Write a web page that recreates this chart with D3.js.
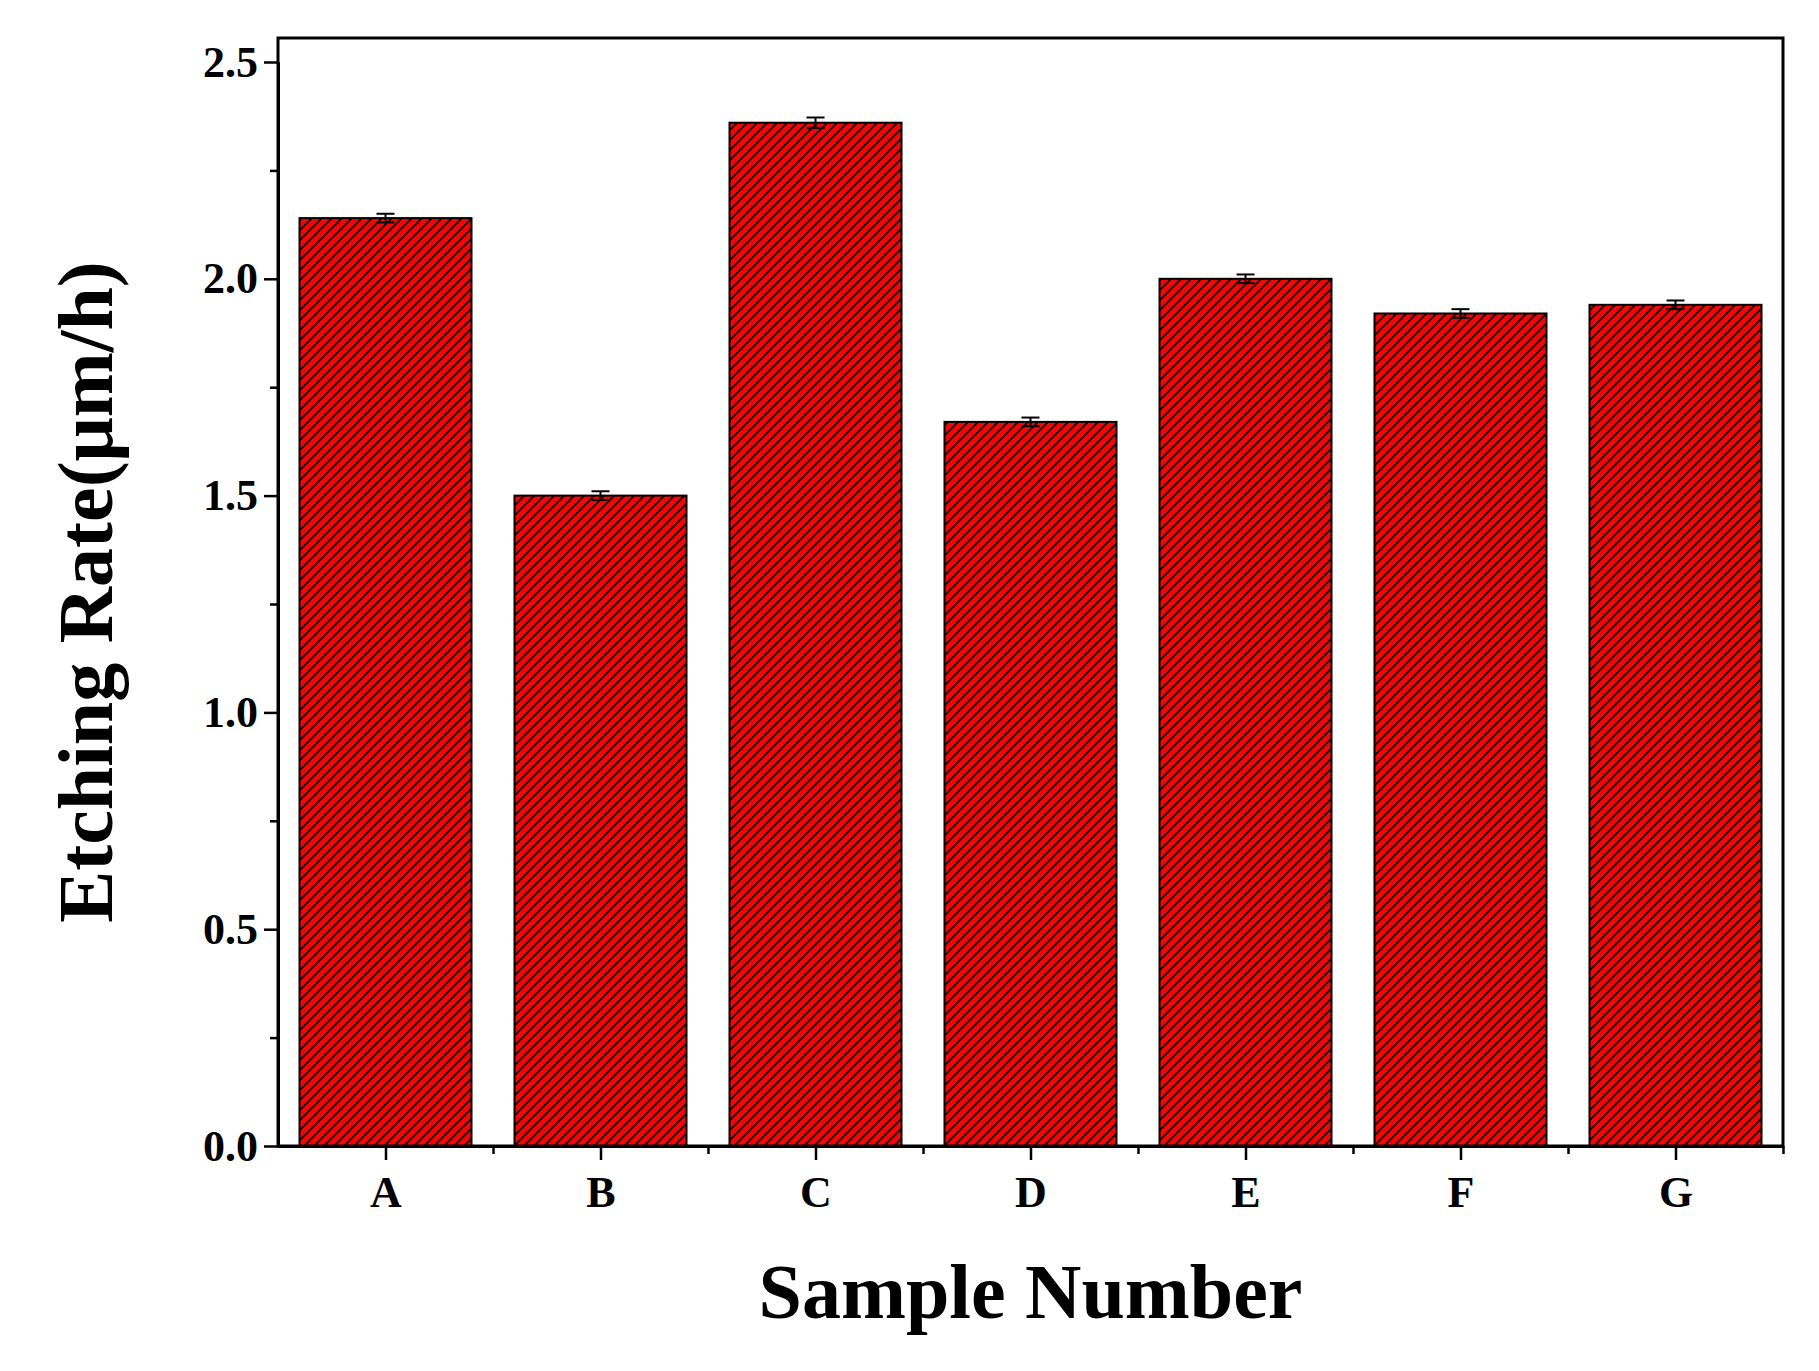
<!DOCTYPE html><html><head><script src="https://d3js.org/d3.v7.min.js"></script>
<style>body{margin:0;background:#fff}</style></head><body><svg id="c" width="1819" height="1371"></svg>
<script>
const categories=["A","B","C","D","E","F","G"];
const values=[2.14,1.50,2.36,1.67,2.00,1.92,1.94];
const errors=[0.01,0.01,0.012,0.01,0.01,0.01,0.01];
const yTicks=[0,0.5,1.0,1.5,2.0,2.5];
const svg=d3.select("#c");
const L=278,R=1783,T=38,B=1146;
const x=d3.scaleLinear().domain([0.5,7.5]).range([L,R]);
const y=d3.scaleLinear().domain([0,2.5]).range([B,62]);
const defs=svg.append("defs");
const p=defs.append("pattern").attr("id","h").attr("patternUnits","userSpaceOnUse").attr("width",10).attr("height",10);
p.append("rect").attr("width",10).attr("height",10).attr("fill","#ff0000");
p.append("path").attr("d","M-1,11 L11,-1 M-6,6 L6,-6 M4,16 L16,4").attr("stroke","#000").attr("stroke-width",1.6);
const bw=(x(2)-x(1))*0.8;
svg.selectAll(".bar").data(values).join("rect").attr("x",(d,i)=>x(i+1)-bw/2).attr("y",d=>y(d))
 .attr("width",bw).attr("height",d=>B-y(d)).attr("fill","url(#h)").attr("stroke","#000").attr("stroke-width",2);
const eb=svg.append("g").attr("stroke","#000").attr("stroke-width",2);
values.forEach((v,i)=>{const cx=x(i+1),e=errors[i];
 eb.append("line").attr("x1",cx).attr("x2",cx).attr("y1",y(v+e)).attr("y2",y(v-e));
 eb.append("line").attr("x1",cx-9).attr("x2",cx+9).attr("y1",y(v+e)).attr("y2",y(v+e));
 eb.append("line").attr("x1",cx-9).attr("x2",cx+9).attr("y1",y(v-e)).attr("y2",y(v-e));});
svg.append("rect").attr("x",L).attr("y",T).attr("width",R-L).attr("height",B-T).attr("fill","none").attr("stroke","#000").attr("stroke-width",3);
const ya=svg.append("g").attr("transform",`translate(${L},0)`).call(d3.axisLeft(y).tickValues(yTicks).tickFormat(d3.format(".1f")).tickSize(14).tickSizeOuter(0));
svg.append("g").attr("transform",`translate(${L},0)`).call(d3.axisLeft(y).tickValues(d3.range(0.25,2.5,0.5)).tickFormat("").tickSize(8).tickSizeOuter(0));
const xa=svg.append("g").attr("transform",`translate(0,${B})`).call(d3.axisBottom(x).tickValues(d3.range(1,8)).tickFormat(d=>categories[d-1]).tickSize(14).tickSizeOuter(0));
svg.append("g").attr("transform",`translate(0,${B})`).call(d3.axisBottom(x).tickValues(d3.range(1.5,8,1)).tickFormat("").tickSize(8).tickSizeOuter(0));
svg.selectAll(".domain").attr("stroke-width",3);
svg.selectAll(".tick line").attr("stroke-width",2.5);
svg.selectAll(".tick text").attr("font-family","Liberation Serif").attr("font-weight","bold").attr("font-size",44).attr("fill","#000");
ya.selectAll(".tick text").attr("x",-20);
xa.selectAll(".tick text").attr("y",30);
svg.append("text").attr("x",(L+R)/2).attr("y",1318).attr("text-anchor","middle").attr("font-family","Liberation Serif").attr("font-weight","bold").attr("font-size",78).text("Sample Number");
svg.append("text").attr("transform",`translate(112,${(T+B)/2}) rotate(-90)`).attr("text-anchor","middle").attr("font-family","Liberation Serif").attr("font-weight","bold").attr("font-size",78).text("Etching Rate(μm/h)");
</script></body></html>
